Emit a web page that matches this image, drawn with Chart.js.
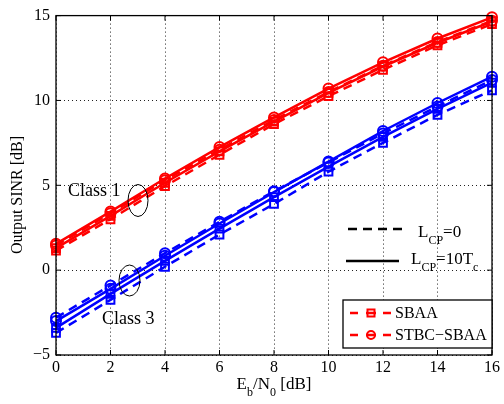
<!DOCTYPE html>
<html>
<head>
<meta charset="utf-8">
<script src="https://cdn.jsdelivr.net/npm/chart.js@4.4.1/dist/chart.umd.min.js"></script>
<style>
  html, body { margin: 0; padding: 0; background: #fff; }
  canvas { display: block; }
</style>
</head>
<body>
<canvas id="c" width="504" height="404"></canvas>
<script>
// Eb/N0 grid [dB]
const EBN0 = [0, 2, 4, 6, 8, 10, 12, 14, 16];
const X_TICKS = [0, 2, 4, 6, 8, 10, 12, 14, 16];
const Y_TICKS = [-5, 0, 5, 10, 15];

// Class 1 (red) output SINR [dB]
const class1StbcLcp10 = [1.55, 3.45, 5.4, 7.25, 9.0, 10.7, 12.25, 13.65, 14.9];
const class1StbcLcp0  = [1.45, 3.35, 5.3, 7.1, 8.85, 10.5, 12.05, 13.45, 14.7];
const class1SbaaLcp10 = [1.3, 3.2, 5.15, 7.0, 8.75, 10.45, 12.0, 13.4, 14.65];
const class1SbaaLcp0  = [1.15, 3.0, 4.95, 6.8, 8.6, 10.25, 11.8, 13.25, 14.5];

// Class 3 (blue) output SINR [dB]
const class3StbcLcp10 = [-3.0, -1.1, 0.85, 2.75, 4.6, 6.4, 8.2, 9.85, 11.4];
const class3StbcLcp0  = [-2.8, -0.9, 1.0, 2.85, 4.65, 6.35, 8.05, 9.65, 11.2];
const class3SbaaLcp10 = [-3.4, -1.4, 0.55, 2.45, 4.3, 6.1, 7.85, 9.5, 11.05];
const class3SbaaLcp0  = [-3.7, -1.75, 0.2, 2.1, 3.9, 5.8, 7.5, 9.15, 10.6];

const RED = '#ff0000';
const BLUE = '#0000ff';
const SERIF = "'Liberation Serif', 'Times New Roman', serif";
const DASH = [9, 6];

function series(label, values, color, marker, dashed) {
  return {
    label,
    data: EBN0.map((x, i) => ({ x, y: values[i] })),
    borderColor: color,
    borderWidth: 2.5,
    borderDash: dashed ? DASH : [],
    pointStyle: marker,
    pointRadius: marker === 'rect' ? 5.5 : 5,
    pointHoverRadius: 5,
    pointBorderColor: color,
    pointBackgroundColor: 'rgba(0,0,0,0)',
    pointBorderWidth: 2,
    tension: 0,
    fill: false,
    clip: false
  };
}

// draw a run of text pieces, some of them subscripts; returns end x
function richText(ctx, parts, x, y, size) {
  ctx.textAlign = 'left';
  ctx.textBaseline = 'alphabetic';
  for (const p of parts) {
    const fs = p.sub ? Math.round(size * 0.72) : size;
    ctx.font = fs + 'px ' + SERIF;
    ctx.fillText(p.t, x, y + (p.sub ? size * 0.42 : 0));
    x += ctx.measureText(p.t).width;
  }
  return x;
}

function richWidth(ctx, parts, size) {
  let w = 0;
  for (const p of parts) {
    ctx.font = (p.sub ? Math.round(size * 0.72) : size) + 'px ' + SERIF;
    w += ctx.measureText(p.t).width;
  }
  return w;
}

const decorations = {
  id: 'decorations',
  afterDraw(chart) {
    const { ctx, chartArea: a, scales: { x, y } } = chart;
    ctx.save();
    ctx.fillStyle = '#000';
    ctx.strokeStyle = '#000';

    // axes box + inward ticks
    ctx.lineWidth = 1.3;
    ctx.strokeRect(a.left, a.top, a.right - a.left, a.bottom - a.top);
    ctx.lineWidth = 1;
    ctx.beginPath();
    for (const v of X_TICKS) {
      const px = x.getPixelForValue(v);
      ctx.moveTo(px, a.bottom); ctx.lineTo(px, a.bottom - 5);
      ctx.moveTo(px, a.top); ctx.lineTo(px, a.top + 5);
    }
    for (const v of Y_TICKS) {
      const py = y.getPixelForValue(v);
      ctx.moveTo(a.left, py); ctx.lineTo(a.left + 5, py);
      ctx.moveTo(a.right, py); ctx.lineTo(a.right - 5, py);
    }
    ctx.stroke();

    // class annotations
    ctx.lineWidth = 1;
    ctx.beginPath();
    ctx.ellipse(138, 200.5, 10, 16, 0, 0, Math.PI * 2);
    ctx.stroke();
    ctx.beginPath();
    ctx.ellipse(129.5, 280.5, 10.5, 15.5, 0, 0, Math.PI * 2);
    ctx.stroke();
    ctx.font = '18px ' + SERIF;
    ctx.textAlign = 'left';
    ctx.textBaseline = 'alphabetic';
    ctx.fillText('Class 1', 68, 196);
    ctx.fillText('Class 3', 102, 324);

    // L_CP line-style legend
    ctx.lineWidth = 2.5;
    ctx.setLineDash(DASH);
    ctx.beginPath(); ctx.moveTo(348, 229); ctx.lineTo(402, 229); ctx.stroke();
    ctx.setLineDash([]);
    ctx.beginPath(); ctx.moveTo(346, 261); ctx.lineTo(399, 261); ctx.stroke();
    richText(ctx, [{ t: 'L' }, { t: 'CP', sub: true }, { t: '=0' }], 418, 237, 17);
    richText(ctx, [{ t: 'L' }, { t: 'CP', sub: true }, { t: '=10T' }, { t: 'c', sub: true }], 411, 264, 17);

    // marker legend box
    ctx.fillStyle = '#fff';
    ctx.fillRect(343, 300, 149, 48);
    ctx.lineWidth = 1.3;
    ctx.strokeRect(343, 300, 149, 48);
    const rows = [{ t: 'SBAA', y: 313, m: 'rect' }, { t: 'STBC\u2212SBAA', y: 335, m: 'circle' }];
    for (const r of rows) {
      ctx.strokeStyle = RED;
      ctx.lineWidth = 2.5;
      ctx.beginPath();
      ctx.moveTo(350, r.y); ctx.lineTo(358, r.y);
      ctx.moveTo(366, r.y); ctx.lineTo(376, r.y);
      ctx.moveTo(383, r.y); ctx.lineTo(391, r.y);
      ctx.stroke();
      ctx.lineWidth = 2;
      ctx.beginPath();
      if (r.m === 'rect') ctx.rect(367.5, r.y - 3.5, 7, 7);
      else ctx.arc(371, r.y, 4, 0, Math.PI * 2);
      ctx.stroke();
      ctx.fillStyle = '#000';
      ctx.font = '16px ' + SERIF;
      ctx.textAlign = 'left';
      ctx.textBaseline = 'middle';
      ctx.fillText(r.t, 395, r.y + 1);
    }

    // axis titles
    ctx.fillStyle = '#000';
    const xl = [{ t: 'E' }, { t: 'b', sub: true }, { t: '/N' }, { t: '0', sub: true }, { t: ' [dB]' }];
    const w = richWidth(ctx, xl, 17);
    richText(ctx, xl, (a.left + a.right) / 2 - w / 2, 389, 17);
    ctx.translate(18, 195);
    ctx.rotate(-Math.PI / 2);
    ctx.font = '16px ' + SERIF;
    ctx.textAlign = 'center';
    ctx.textBaseline = 'middle';
    ctx.fillText('Output SINR [dB]', 0, 0);
    ctx.restore();
  }
};

const tickFmt = v => (v < 0 ? '\u2212' + Math.abs(v) : String(v));

new Chart(document.getElementById('c'), {
  type: 'line',
  data: {
    datasets: [
      series('Class 1 STBC-SBAA, LCP=10Tc', class1StbcLcp10, RED, 'circle', false),
      series('Class 1 STBC-SBAA, LCP=0', class1StbcLcp0, RED, 'circle', true),
      series('Class 1 SBAA, LCP=10Tc', class1SbaaLcp10, RED, 'rect', false),
      series('Class 1 SBAA, LCP=0', class1SbaaLcp0, RED, 'rect', true),
      series('Class 3 STBC-SBAA, LCP=10Tc', class3StbcLcp10, BLUE, 'circle', false),
      series('Class 3 STBC-SBAA, LCP=0', class3StbcLcp0, BLUE, 'circle', true),
      series('Class 3 SBAA, LCP=10Tc', class3SbaaLcp10, BLUE, 'rect', false),
      series('Class 3 SBAA, LCP=0', class3SbaaLcp0, BLUE, 'rect', true)
    ]
  },
  options: {
    responsive: false,
    animation: false,
    layout: { padding: { left: 0, right: 12, top: 15, bottom: 0 } },
    plugins: {
      legend: { display: false },
      tooltip: { enabled: false }
    },
    scales: {
      x: {
        type: 'linear',
        min: 0, max: 16,
        afterBuildTicks: s => { s.ticks = X_TICKS.map(v => ({ value: v })); },
        afterFit: s => { s.height = 49; },
        ticks: { color: '#000', font: { family: SERIF, size: 16 }, padding: 3, callback: tickFmt, maxRotation: 0 },
        grid: { color: '#222', lineWidth: 1, drawTicks: false },
        border: { display: false, dash: [1, 3] }
      },
      y: {
        min: -5, max: 15,
        afterBuildTicks: s => { s.ticks = Y_TICKS.map(v => ({ value: v })); },
        afterFit: s => { s.width = 56; },
        ticks: { color: '#000', font: { family: SERIF, size: 16 }, padding: 6, callback: tickFmt },
        grid: { color: '#222', lineWidth: 1, drawTicks: false },
        border: { display: false, dash: [1, 3] }
      }
    }
  },
  plugins: [decorations]
});
</script>
</body>
</html>
